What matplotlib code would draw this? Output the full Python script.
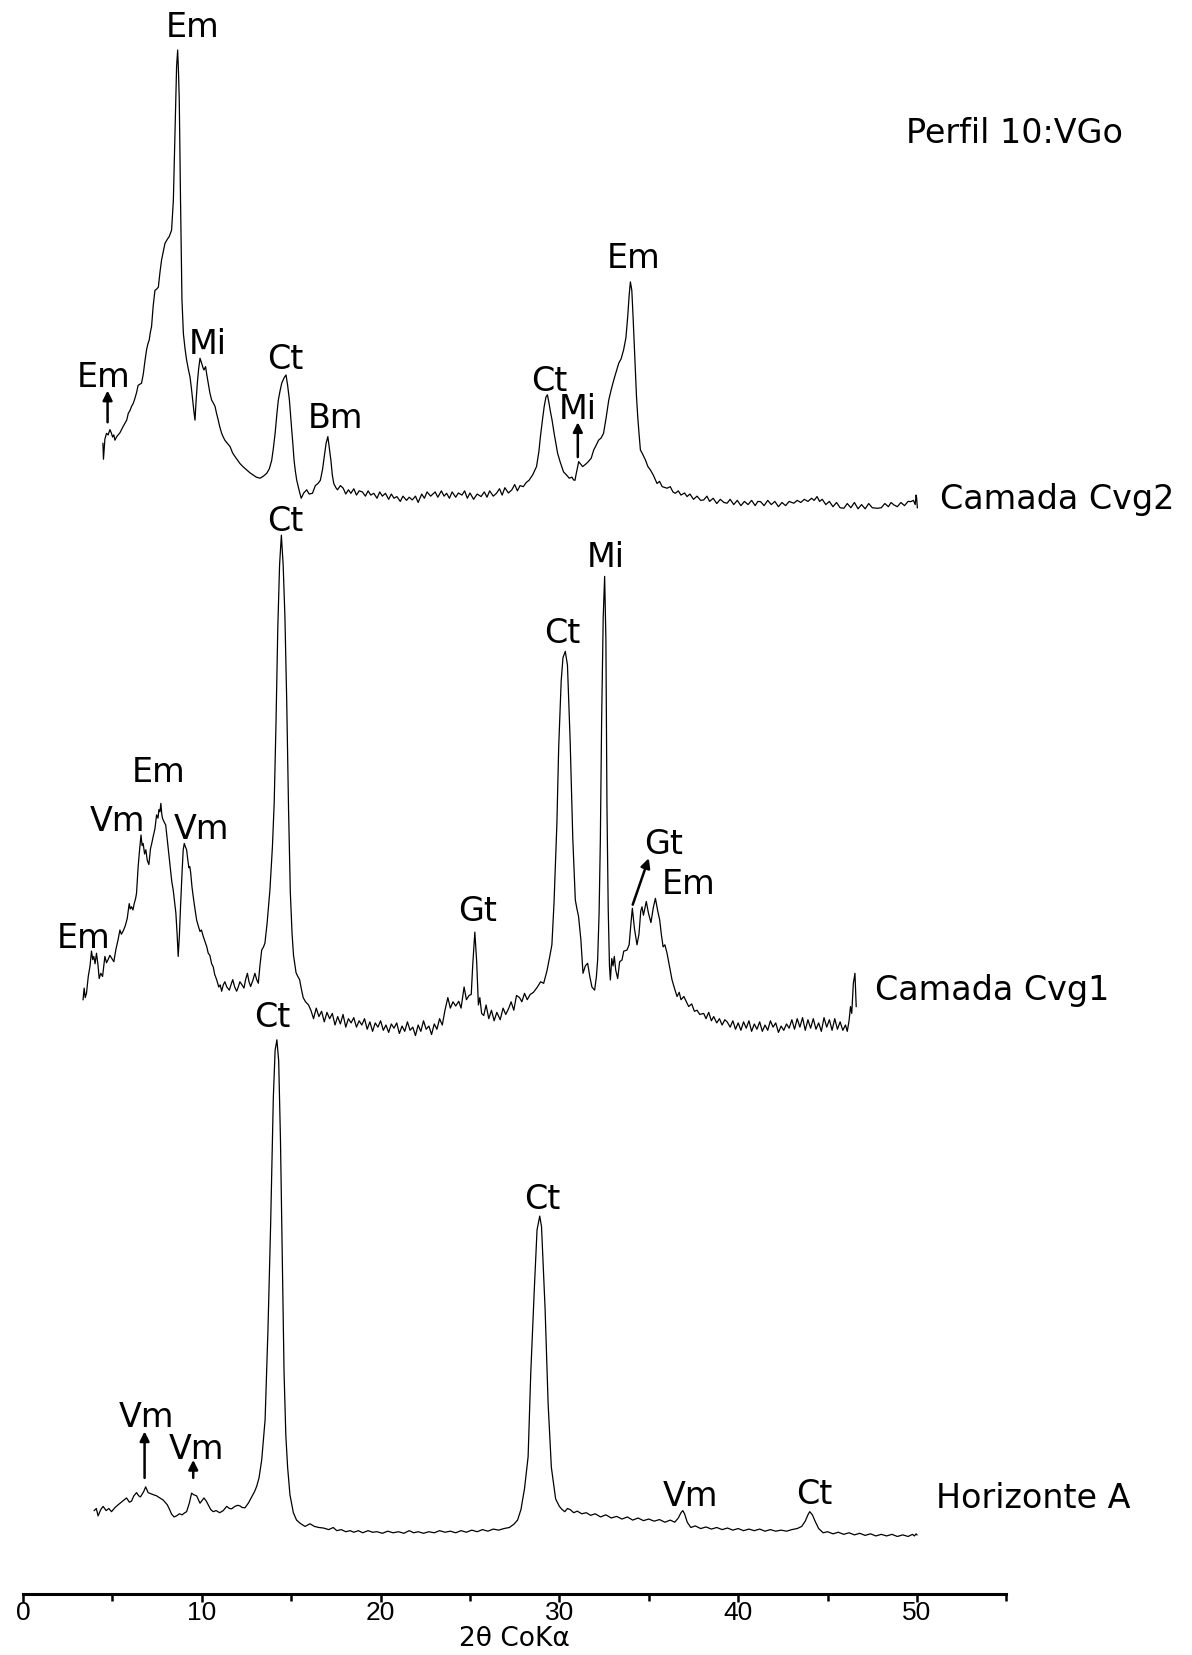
import matplotlib
matplotlib.use("Agg")
import matplotlib.pyplot as plt
from matplotlib.ticker import MultipleLocator

# --- data: (2theta, intensity above trace baseline) ---
cvg2 = [
    (4.47, 70), (4.5, 55), (4.58, 74), (4.67, 79.5), (4.76, 78), (4.86, 83), (4.94, 80),
    (5.01, 76), (5.08, 78), (5.14, 73), (5.23, 76), (5.32, 78), (5.42, 80), (5.51, 83),
    (5.6, 86), (5.7, 89), (5.8, 92), (5.89, 98.5), (5.98, 101), (6.07, 105), (6.17, 108),
    (6.26, 112.7), (6.35, 118), (6.44, 125), (6.53, 126), (6.63, 127), (6.73, 136),
    (6.82, 148), (6.91, 158.5), (6.98, 164), (7.06, 168), (7.12, 175), (7.19, 180.6),
    (7.28, 200), (7.38, 215), (7.47, 216), (7.57, 218), (7.66, 232), (7.75, 243.7),
    (7.85, 252), (7.94, 259.5), (8.06, 263), (8.18, 266), (8.31, 272), (8.41, 300.5),
    (8.5, 363.7), (8.59, 427), (8.65, 442.6), (8.7, 420), (8.74, 395), (8.81, 300.5),
    (8.89, 206), (8.97, 174), (9.06, 160), (9.15, 149), (9.25, 140), (9.34, 133),
    (9.42, 122), (9.49, 111), (9.56, 100), (9.62, 92), (9.68, 110), (9.75, 127),
    (9.82, 140), (9.9, 150.6), (9.99, 146), (10.06, 142), (10.12, 139.5), (10.21, 142.7),
    (10.28, 135), (10.36, 127), (10.45, 118), (10.55, 111), (10.65, 108), (10.74, 105),
    (10.83, 98), (10.92, 92), (11.0, 86), (11.11, 79.5), (11.2, 76), (11.29, 73),
    (11.43, 70), (11.58, 67), (11.72, 61), (11.86, 57.4), (12.0, 54), (12.13, 51),
    (12.3, 48), (12.51, 44.8), (12.7, 42), (12.88, 40), (13.05, 38), (13.26, 37),
    (13.45, 39), (13.63, 41.6), (13.78, 46), (13.91, 54), (14.0, 65), (14.1, 79.5),
    (14.2, 98), (14.28, 111), (14.38, 120), (14.47, 127), (14.6, 132), (14.71, 134.8),
    (14.8, 125), (14.9, 111), (14.97, 95), (15.03, 82.7), (15.1, 68), (15.16, 54),
    (15.23, 44), (15.31, 35), (15.45, 25), (15.56, 18), (15.7, 23), (15.87, 26),
    (16.0, 22), (16.19, 22.7), (16.35, 30), (16.5, 32), (16.63, 35), (16.75, 45),
    (16.84, 56), (16.95, 70), (17.05, 76.4), (17.13, 66), (17.22, 54), (17.3, 40),
    (17.38, 32), (17.5, 28), (17.59, 26), (17.75, 30), (17.91, 27.5), (18.05, 22),
    (18.2, 26), (18.34, 22.7), (18.5, 27), (18.65, 21), (18.8, 25), (18.98, 24),
    (19.15, 20), (19.3, 25), (19.45, 21), (19.62, 22.7), (19.8, 18), (19.95, 24),
    (20.1, 20), (20.27, 22.7), (20.45, 17), (20.6, 22), (20.75, 18), (20.91, 19.6),
    (21.1, 15), (21.25, 20), (21.45, 16), (21.6, 19), (21.77, 16.4), (21.95, 20),
    (22.1, 14), (22.3, 22), (22.45, 18), (22.6, 24), (22.8, 20), (23.05, 24), (23.2, 19),
    (23.4, 25), (23.55, 20), (23.69, 22.7), (23.85, 18), (24.0, 24), (24.2, 19),
    (24.35, 23), (24.55, 21), (24.7, 25), (24.85, 18), (25.0, 23), (25.2, 17), (25.4, 22),
    (25.62, 19.6), (25.8, 24), (25.95, 19), (26.1, 25), (26.3, 20), (26.48, 22.7),
    (26.65, 27), (26.8, 21), (26.95, 28), (27.15, 23), (27.34, 26), (27.5, 31),
    (27.65, 25), (27.8, 30), (27.98, 29), (28.15, 33), (28.3, 35), (28.5, 40),
    (28.72, 48), (28.85, 62), (28.95, 78), (29.05, 92), (29.15, 105), (29.25, 114),
    (29.33, 116), (29.42, 108), (29.5, 100), (29.59, 92), (29.7, 80), (29.8, 70),
    (29.9, 60.6), (30.05, 52), (30.23, 43), (30.4, 40), (30.55, 37), (30.7, 38),
    (30.79, 35.4), (30.87, 35), (30.95, 42), (31.08, 52.7), (31.16, 51), (31.3, 48),
    (31.45, 50), (31.62, 52.7), (31.78, 56), (31.92, 63.8), (32.05, 68), (32.19, 73),
    (32.33, 75), (32.47, 79.6), (32.62, 95), (32.76, 111), (32.9, 121), (33.04, 130),
    (33.18, 138), (33.32, 146), (33.45, 150), (33.59, 158.5), (33.72, 170), (33.82, 190),
    (33.9, 210), (33.97, 223), (34.05, 215), (34.12, 190), (34.24, 142.7), (34.31, 115),
    (34.38, 95.4), (34.45, 80), (34.53, 63.8), (34.65, 60), (34.81, 54.3), (34.95, 48),
    (35.09, 44.8), (35.25, 40), (35.46, 32), (35.6, 34), (35.75, 29), (36.02, 27.5),
    (36.2, 29), (36.35, 24), (36.48, 22.7), (36.65, 25), (36.8, 21), (37.0, 23),
    (37.14, 19.6), (37.3, 22), (37.5, 17), (37.7, 20), (37.9, 16), (38.07, 16.4),
    (38.25, 20), (38.4, 15), (38.6, 18), (38.8, 13), (39.0, 17), (39.2, 14), (39.38, 13.3),
    (39.55, 17), (39.75, 12), (39.95, 16), (40.15, 11), (40.35, 15), (40.55, 12),
    (40.75, 16), (40.95, 11), (41.1, 15), (41.25, 14.8), (41.45, 11), (41.65, 16),
    (41.85, 12), (42.05, 15), (42.25, 10), (42.45, 14), (42.65, 11), (42.85, 15),
    (43.11, 13.3), (43.3, 16), (43.5, 14), (43.7, 17), (43.9, 15), (44.1, 18), (44.25, 16),
    (44.41, 19.6), (44.55, 15), (44.7, 17), (44.9, 12), (45.1, 15), (45.3, 10), (45.5, 14),
    (45.7, 9), (45.91, 8.5), (46.1, 13), (46.3, 9), (46.5, 14), (46.7, 8), (46.9, 12),
    (47.1, 8), (47.3, 13), (47.5, 9), (47.78, 8.5), (48.0, 9), (48.2, 13), (48.4, 10),
    (48.55, 14), (48.71, 11.7), (48.9, 10), (49.1, 14), (49.3, 11), (49.5, 15),
    (49.65, 14.8), (49.8, 16), (49.9, 12), (49.95, 21), (49.98, 18), (50.02, 9),
]

cvg1 = [
    (3.36, 38), (3.42, 49), (3.48, 40), (3.55, 44), (3.65, 60), (3.75, 70), (3.83, 84),
    (3.9, 76), (3.96, 79), (4.03, 72), (4.11, 82), (4.2, 70), (4.26, 58), (4.35, 63),
    (4.45, 60), (4.52, 70), (4.58, 79), (4.67, 73), (4.76, 76), (4.86, 80), (4.97, 77),
    (5.08, 74), (5.2, 86), (5.32, 95), (5.42, 104), (5.5, 100), (5.6, 103), (5.72, 108),
    (5.83, 115), (5.94, 129), (6.0, 124), (6.07, 126), (6.15, 123), (6.22, 129),
    (6.3, 134), (6.35, 139), (6.44, 164), (6.52, 180), (6.6, 194), (6.66, 184),
    (6.72, 186), (6.8, 176), (6.87, 180), (6.95, 170), (7.04, 166), (7.13, 181),
    (7.2, 186), (7.28, 192.5), (7.38, 200), (7.47, 213), (7.55, 210), (7.6, 218),
    (7.66, 216), (7.71, 224), (7.76, 214), (7.8, 210), (7.9, 206), (7.98, 203.6),
    (8.1, 185), (8.22, 166), (8.32, 150), (8.4, 142), (8.48, 130), (8.55, 120),
    (8.62, 100), (8.68, 79), (8.75, 100), (8.81, 126), (8.9, 160), (8.96, 180),
    (9.02, 186), (9.08, 183), (9.15, 180), (9.22, 170), (9.28, 163), (9.33, 164),
    (9.38, 158), (9.45, 145), (9.52, 135.7), (9.6, 126), (9.71, 113.6), (9.8, 108),
    (9.9, 102.6), (9.98, 104), (10.08, 98), (10.2, 92), (10.28, 88), (10.36, 82),
    (10.45, 80), (10.55, 72), (10.64, 69), (10.72, 62), (10.83, 57), (10.95, 50),
    (11.03, 52), (11.11, 46), (11.2, 52), (11.29, 55), (11.4, 50), (11.54, 47),
    (11.63, 52), (11.73, 57), (11.84, 50), (11.95, 46), (12.04, 50), (12.13, 55),
    (12.25, 52), (12.36, 49), (12.45, 57), (12.55, 63), (12.64, 55), (12.73, 50.5),
    (12.85, 56), (12.97, 63), (13.07, 57), (13.16, 53.6), (13.25, 70), (13.35, 85),
    (13.45, 88), (13.53, 91.5), (13.65, 110), (13.81, 142), (13.95, 183), (14.05, 225),
    (14.15, 300), (14.25, 390), (14.35, 450), (14.45, 478), (14.55, 450), (14.65, 400),
    (14.75, 320), (14.85, 220), (14.95, 140), (15.05, 100), (15.13, 80), (15.2, 72),
    (15.27, 63.6), (15.37, 60), (15.47, 57), (15.57, 48), (15.67, 40), (15.8, 36),
    (15.97, 33), (16.1, 28), (16.25, 20), (16.4, 30), (16.55, 22), (16.7, 27),
    (16.85, 17), (17.0, 26), (17.15, 20), (17.3, 25), (17.45, 14), (17.6, 22),
    (17.75, 15), (17.9, 24), (18.05, 12), (18.2, 20), (18.35, 16), (18.5, 21),
    (18.65, 12), (18.8, 18), (18.95, 14), (19.1, 20), (19.25, 10), (19.4, 17),
    (19.55, 8), (19.7, 16), (19.85, 12), (20.0, 18), (20.15, 9), (20.3, 14), (20.45, 7),
    (20.6, 15), (20.75, 11), (20.9, 16), (21.05, 6), (21.2, 13), (21.35, 8), (21.5, 17),
    (21.65, 9), (21.8, 12), (21.95, 4), (22.1, 14), (22.25, 8), (22.4, 18), (22.55, 10),
    (22.7, 13), (22.85, 5), (23.0, 15), (23.15, 10), (23.3, 20), (23.45, 14), (23.6, 28),
    (23.76, 40), (23.9, 30), (24.05, 36), (24.2, 32), (24.37, 36.5), (24.5, 30),
    (24.67, 50), (24.8, 38), (24.95, 42), (25.07, 43), (25.15, 70), (25.27, 102),
    (25.37, 75), (25.47, 33), (25.55, 40), (25.65, 25), (25.77, 23), (25.9, 33),
    (26.05, 20), (26.2, 28), (26.35, 18), (26.5, 26), (26.69, 19), (26.85, 30),
    (27.0, 24), (27.17, 30), (27.3, 36), (27.45, 28), (27.6, 42), (27.77, 40),
    (27.9, 36), (28.05, 44), (28.2, 38), (28.37, 43), (28.55, 45), (28.77, 50),
    (28.95, 55), (29.12, 53.5), (29.3, 65), (29.45, 78), (29.58, 90), (29.7, 130),
    (29.86, 205), (29.96, 277), (30.1, 340), (30.2, 362), (30.33, 368), (30.45, 355),
    (30.6, 284), (30.75, 190), (30.89, 132.5), (30.97, 125), (31.07, 117), (31.2, 95),
    (31.32, 63), (31.45, 70), (31.58, 72.5), (31.7, 60), (31.82, 50), (31.97, 47),
    (32.07, 60), (32.14, 76), (32.22, 120), (32.29, 189), (32.36, 300), (32.45, 400),
    (32.53, 439), (32.6, 380), (32.66, 221), (32.73, 124), (32.8, 70), (32.85, 56.7),
    (32.93, 77), (33.0, 70), (33.07, 79), (33.15, 66), (33.26, 58), (33.37, 74),
    (33.5, 75.6), (33.6, 84), (33.78, 85), (33.9, 90), (34.0, 110), (34.08, 124.6),
    (34.2, 105), (34.34, 90), (34.45, 100), (34.55, 122), (34.62, 126), (34.7, 118),
    (34.86, 131), (34.98, 120), (35.12, 111), (35.25, 125), (35.37, 134), (35.5, 122),
    (35.61, 113.5), (35.7, 100), (35.8, 88), (35.9, 90), (36.02, 82), (36.15, 70),
    (36.3, 56.7), (36.45, 48), (36.58, 41), (36.7, 45), (36.8, 38), (36.96, 41),
    (37.1, 36), (37.23, 31.5), (37.4, 34), (37.55, 27), (37.7, 28), (37.85, 24),
    (38.07, 25), (38.2, 20), (38.35, 26), (38.5, 18), (38.63, 22), (38.8, 16),
    (38.95, 20), (39.1, 14), (39.25, 19), (39.38, 17), (39.55, 12), (39.7, 18),
    (39.85, 10), (40.0, 16), (40.15, 9), (40.3, 17), (40.45, 11), (40.6, 18), (40.75, 8),
    (40.9, 15), (41.05, 10), (41.2, 17), (41.35, 8), (41.5, 14), (41.65, 9), (41.8, 18),
    (41.95, 12), (42.1, 16), (42.25, 7), (42.4, 13), (42.55, 9), (42.7, 15), (42.85, 11),
    (43.0, 19), (43.15, 10), (43.3, 20), (43.45, 12), (43.6, 21), (43.75, 9), (43.9, 19),
    (44.05, 11), (44.2, 20), (44.35, 10), (44.5, 16), (44.65, 8), (44.8, 21), (44.95, 12),
    (45.1, 19), (45.25, 9), (45.4, 20), (45.55, 10), (45.7, 17), (45.85, 9), (46.0, 14),
    (46.1, 8), (46.2, 18), (46.28, 31.5), (46.35, 25), (46.44, 53.5), (46.53, 63),
    (46.6, 31.5),
]

horizonte_a = [
    (3.98, 29), (4.1, 31), (4.2, 24), (4.35, 30), (4.48, 33), (4.65, 29), (4.8, 31),
    (4.95, 28), (5.15, 32), (5.32, 34.5), (5.5, 37), (5.65, 39), (5.79, 41), (5.95, 37),
    (6.07, 38), (6.2, 43), (6.35, 46), (6.47, 43), (6.57, 42), (6.75, 47), (6.86, 51.5),
    (7.0, 46), (7.15, 45), (7.3, 44), (7.47, 43), (7.65, 41), (7.84, 39), (8.07, 34.5),
    (8.2, 30), (8.31, 25.7), (8.45, 23), (8.59, 24), (8.75, 26), (8.9, 25), (9.05, 27),
    (9.15, 28), (9.3, 36), (9.43, 45.5), (9.55, 44), (9.71, 43), (9.9, 36), (10.12, 41),
    (10.25, 38), (10.36, 34.5), (10.5, 30), (10.64, 28), (10.8, 29), (11.0, 27),
    (11.2, 29), (11.39, 33), (11.55, 31), (11.67, 30.7), (11.85, 33), (12.0, 34),
    (12.13, 33.5), (12.25, 32), (12.41, 31.6), (12.6, 36), (12.79, 42), (12.95, 47),
    (13.07, 52), (13.2, 60), (13.35, 77), (13.54, 115), (13.7, 200), (13.85, 300),
    (14.0, 420), (14.1, 465), (14.2, 475), (14.3, 455), (14.4, 380), (14.5, 270),
    (14.6, 160), (14.7, 100), (14.8, 70), (14.93, 44), (15.12, 27), (15.3, 20),
    (15.5, 17), (15.77, 14), (16.05, 16.5), (16.3, 14), (16.55, 13), (16.8, 12.5),
    (17.1, 11), (17.35, 13), (17.55, 10), (17.8, 11), (18.05, 9), (18.3, 10), (18.5, 8.5),
    (18.76, 10), (19.0, 8), (19.3, 10), (19.55, 8.5), (19.8, 9), (20.1, 7.5), (20.4, 9.5),
    (20.7, 8), (21.0, 9), (21.3, 7.5), (21.6, 10), (21.85, 8), (22.1, 9), (22.4, 7.5),
    (22.7, 9), (23.0, 8), (23.3, 10), (23.6, 8.5), (23.9, 9.5), (24.2, 8), (24.5, 10),
    (24.8, 8.5), (25.1, 10.5), (25.4, 9), (25.7, 11), (26.0, 9.5), (26.3, 11.5),
    (26.6, 10.5), (26.9, 12), (27.2, 13), (27.45, 16), (27.66, 20), (27.85, 30),
    (28.05, 50), (28.25, 80), (28.4, 160), (28.6, 240), (28.75, 295), (28.9, 308),
    (29.0, 298), (29.2, 220), (29.37, 130), (29.55, 70), (29.79, 40), (30.0, 33),
    (30.15, 30), (30.3, 28), (30.45, 31), (30.6, 30), (30.8, 27), (31.0, 28.5),
    (31.25, 26), (31.5, 27), (31.75, 24.5), (32.0, 26), (32.3, 23), (32.6, 25),
    (32.9, 22), (33.2, 23.5), (33.5, 21), (33.8, 23), (34.1, 20), (34.4, 22),
    (34.7, 19.5), (35.0, 21), (35.3, 19), (35.6, 20.5), (35.9, 18), (36.2, 20),
    (36.45, 18), (36.65, 22), (36.8, 27), (36.9, 29), (37.0, 26), (37.15, 18),
    (37.35, 13), (37.6, 14.5), (37.9, 12), (38.2, 13.5), (38.5, 11.5), (38.8, 13),
    (39.1, 11), (39.4, 12.5), (39.7, 10.5), (40.0, 12), (40.3, 10), (40.6, 11.5),
    (40.9, 10), (41.2, 11.5), (41.5, 9.5), (41.8, 11), (42.1, 9.5), (42.4, 10.5),
    (42.7, 9.5), (43.0, 11), (43.3, 12), (43.55, 14), (43.75, 19), (43.9, 25), (44.0, 28),
    (44.15, 25), (44.3, 19), (44.5, 12), (44.75, 8), (45.0, 9), (45.3, 7), (45.6, 8.5),
    (45.9, 6.5), (46.2, 8), (46.5, 6), (46.8, 7.5), (47.1, 5.5), (47.4, 7), (47.7, 5),
    (48.0, 6.5), (48.3, 5), (48.6, 6.5), (48.9, 4.5), (49.2, 6), (49.5, 4.5),
    (49.75, 6.5), (49.85, 5), (49.95, 7), (50.0, 6),
]

# vertical stacking offsets of the three patterns
offsets = {"cvg2": 1020, "cvg1": 525, "horizonte_a": 50}
sample_names = {"cvg2": "Camada Cvg2", "cvg1": "Camada Cvg1", "horizonte_a": "Horizonte A"}

# peak labels: (text, 2theta, height)
peak_labels = [
    ("Em", 9.46, 1475), ("Em", 4.49, 1143), ("Mi", 10.34, 1175), ("Ct", 14.66, 1160),
    ("Bm", 17.49, 1105), ("Ct", 29.43, 1140), ("Mi", 31.03, 1113), ("Em", 34.16, 1256),
    ("Ct", 14.66, 1007), ("Mi", 32.57, 973), ("Ct", 30.14, 901), ("Em", 7.57, 769),
    ("Vm", 5.26, 723), ("Vm", 9.99, 715), ("Em", 3.37, 612), ("Gt", 25.41, 638),
    ("Gt", 35.82, 701), ("Em", 37.23, 663),
    ("Ct", 13.95, 537), ("Ct", 29.02, 365), ("Vm", 6.91, 158), ("Vm", 9.69, 128),
    ("Vm", 37.35, 83), ("Ct", 44.27, 85),
]
# arrows: (x_from, y_from, x_to, y_to)
arrows = [
    (4.73, 1110, 4.73, 1140), (31.03, 1077, 31.03, 1110), (34.1, 653, 35.0, 697),
    (6.8, 110, 6.8, 154), (9.52, 110, 9.52, 127),
]
name_pos = {"cvg2": (51.3, 1037), "cvg1": (47.64, 572), "horizonte_a": (51.06, 90)}

fig = plt.figure(figsize=(11.92, 16.55), dpi=100)
ax = fig.add_axes([23 / 1192, 61 / 1655, 983.4 / 1192, 1594 / 1655])

traces = {"cvg2": cvg2, "cvg1": cvg1, "horizonte_a": horizonte_a}
for key, pts in traces.items():
    xs = [p[0] for p in pts]
    ys = [p[1] + offsets[key] for p in pts]
    ax.plot(xs, ys, color="black", lw=0.9)
    nx_, ny_ = name_pos[key]
    ax.text(nx_, ny_, sample_names[key], fontsize=24, ha="left", va="center")

for txt, x, y in peak_labels:
    ax.text(x, y, txt, fontsize=24, ha="center", va="baseline")

for x0, y0, x1, y1 in arrows:
    ax.annotate("", xy=(x1, y1), xytext=(x0, y0),
                arrowprops=dict(arrowstyle="-|>", color="black", lw=1.8,
                                mutation_scale=14, shrinkA=0, shrinkB=0))

ax.text(49.41, 1375, "Perfil 10:VGo", fontsize=24, ha="left", va="baseline")

ax.set_xlim(0, 55)
ax.set_ylim(0, 1510)
for side in ["left", "right", "top"]:
    ax.spines[side].set_visible(False)
ax.spines["bottom"].set_linewidth(2.2)
ax.set_yticks([])
ax.xaxis.set_minor_locator(MultipleLocator(5))
ax.set_xticks(range(0, 51, 10))
ax.tick_params(axis="x", which="major", direction="out", length=6, width=1.8,
               labelsize=19, pad=-1)
ax.tick_params(axis="x", which="minor", direction="out", length=5, width=1.8)
for lab in ax.get_xticklabels():
    lab.set_family("Liberation Sans")
ax.set_xlabel("2θ CoKα", fontsize=19, labelpad=1)

fig.savefig("out.png", dpi=100)
